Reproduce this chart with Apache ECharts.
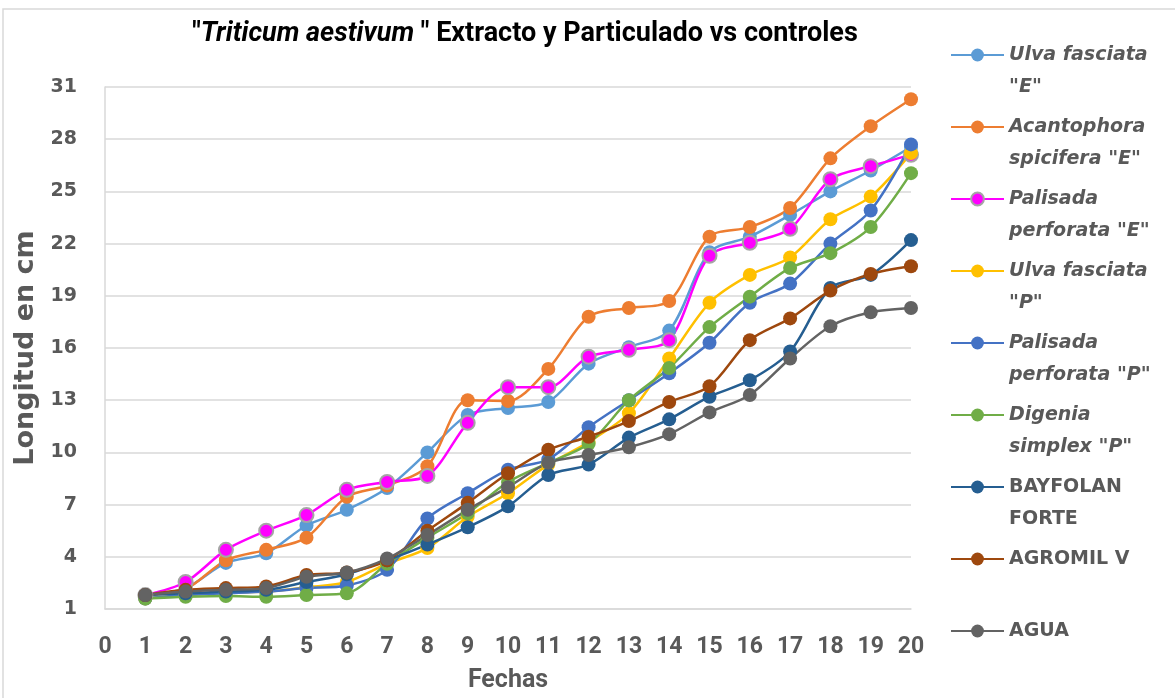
<!DOCTYPE html>
<html>
<head>
<meta charset="utf-8">
<title>Triticum aestivum - Extracto y Particulado vs controles</title>
<script src="https://cdn.jsdelivr.net/npm/echarts@6/dist/echarts.min.js"></script>
<style>
  html, body { margin: 0; padding: 0; background: #fff; }
  #chart { width: 1175px; height: 698px; }
</style>
</head>
<body>
<div id="chart"></div>
<script>
// fechas (eje x) y longitudes en cm por tratamiento
var fechas = [1, 2, 3, 4, 5, 6, 7, 8, 9, 10, 11, 12, 13, 14, 15, 16, 17, 18, 19, 20];

var ulvaE      = [1.8, 2.2, 3.65, 4.2, 5.8, 6.7, 7.95, 10.0, 12.15, 12.55, 12.9, 15.1, 16.05, 17.0, 21.5, 22.4, 23.65, 25.0, 26.2, 27.55];
var acantoE    = [1.8, 2.15, 3.8, 4.4, 5.1, 7.45, 8.1, 9.2, 13.0, 12.95, 14.8, 17.8, 18.3, 18.7, 22.4, 22.95, 24.05, 26.9, 28.75, 30.3];
var palisadaE  = [1.8, 2.55, 4.4, 5.5, 6.4, 7.85, 8.3, 8.65, 11.7, 13.75, 13.75, 15.5, 15.9, 16.45, 21.3, 22.05, 22.85, 25.7, 26.45, 27.1];
var ulvaP      = [1.6, 1.8, 1.95, 2.0, 2.25, 2.55, 3.6, 4.5, 6.3, 7.65, 9.3, 10.6, 12.25, 15.4, 18.6, 20.2, 21.2, 23.4, 24.7, 27.2];
var palisadaP  = [1.6, 1.8, 1.9, 2.0, 2.2, 2.35, 3.25, 6.2, 7.65, 9.0, 9.6, 11.45, 13.0, 14.55, 16.3, 18.6, 19.7, 22.0, 23.9, 27.7];
var digeniaP   = [1.6, 1.7, 1.75, 1.7, 1.8, 1.9, 3.6, 5.1, 6.5, 8.3, 9.4, 10.5, 13.0, 14.85, 17.2, 18.95, 20.6, 21.45, 22.95, 26.05];
var bayfolan   = [1.8, 1.9, 2.0, 2.1, 2.55, 3.0, 3.8, 4.7, 5.7, 6.9, 8.7, 9.3, 10.85, 11.9, 13.2, 14.15, 15.8, 19.45, 20.2, 22.2];
var agromil    = [1.8, 2.1, 2.2, 2.3, 2.95, 3.1, 3.8, 5.5, 7.1, 8.8, 10.15, 10.9, 11.8, 12.9, 13.8, 16.45, 17.7, 19.3, 20.25, 20.7];
var agua       = [1.8, 2.0, 2.1, 2.2, 2.85, 3.1, 3.9, 5.25, 6.7, 8.0, 9.4, 9.85, 10.3, 11.05, 12.3, 13.3, 15.4, 17.25, 18.05, 18.3];

var nombres = [
  'Ulva fasciata "E"', 'Acantophora spicifera "E"', 'Palisada perforata "E"',
  'Ulva fasciata "P"', 'Palisada perforata "P"', 'Digenia simplex "P"',
  'BAYFOLAN FORTE', 'AGROMIL V', 'AGUA'
];
// como se parte cada nombre en la leyenda
var etiquetas = [
  ['Ulva fasciata', '"E"'], ['Acantophora', 'spicifera "E"'], ['Palisada', 'perforata "E"'],
  ['Ulva fasciata', '"P"'], ['Palisada', 'perforata "P"'], ['Digenia', 'simplex "P"'],
  ['BAYFOLAN', 'FORTE'], ['AGROMIL V'], ['AGUA']
];
var yTicks = { min: 1, max: 31, step: 3 };
var xTicks = { min: 0, max: 20, step: 1 };

var gris = '#595959';
var narrow = "Roboto, 'DejaVu Sans', sans-serif";
var ancha = "'DejaVu Sans', Verdana, sans-serif";

function serie(nombre, valores, color, borde) {
  return {
    name: nombre,
    type: 'line',
    smooth: 0.3,
    symbol: 'circle',
    symbolSize: 14,
    data: fechas.map(function (f, i) { return [f, valores[i]]; }),
    lineStyle: { color: color, width: 2.5 },
    itemStyle: borde
      ? { color: color, borderColor: borde, borderWidth: 2 }
      : { color: color, borderWidth: 0 },
    emphasis: { disabled: true }
  };
}

// una leyenda por serie; el simbolo queda a la altura de la primera linea
var LH = 32;
var leyendas = nombres.map(function (n, i) {
  var lineas = etiquetas[i];
  var centro = 55 + 72 * i;
  var doble = lineas.length > 1;
  return {
    data: [n],
    orient: 'vertical',
    left: 950,
    top: centro - (doble ? 1.5 * LH : 0.5 * LH),
    padding: 0,
    itemWidth: 53,
    itemHeight: 16,
    selectedMode: false,
    formatter: function () { return doble ? ' \n' + lineas.join('\n') : lineas[0]; },
    textStyle: {
      fontFamily: ancha,
      fontWeight: 'bold',
      fontStyle: i < 6 ? 'italic' : 'normal',
      fontSize: 19,
      lineHeight: LH,
      color: gris
    }
  };
});

var chart = echarts.init(document.getElementById('chart'));
chart.setOption({
  animation: false,
  backgroundColor: '#fff',
  title: {
    text: '"{i|Triticum aestivum} " Extracto y Particulado vs controles',
    left: 520,
    textAlign: 'center',
    top: 16,
    textStyle: {
      fontFamily: narrow,
      fontWeight: 'bold',
      fontSize: 27,
      color: '#000',
      rich: {
        i: { fontFamily: narrow, fontWeight: 'bold', fontStyle: 'italic', fontSize: 27, color: '#000' }
      }
    }
  },
  legend: leyendas,
  graphic: [{
    type: 'rect',
    shape: { x: 3, y: 9, width: 1185, height: 700 },
    style: { fill: 'none', stroke: '#D9D9D9', lineWidth: 1.5 },
    silent: true
  }],
  grid: { left: 105, right: 264, top: 87, bottom: 89 },
  xAxis: {
    type: 'value',
    min: xTicks.min,
    max: xTicks.max,
    interval: xTicks.step,
    name: 'Fechas',
    nameLocation: 'middle',
    nameGap: 59,
    nameTextStyle: { fontFamily: narrow, fontWeight: 'bold', fontSize: 25, color: gris },
    axisLine: { lineStyle: { color: '#D9D9D9', width: 1.5 } },
    axisTick: { show: false },
    splitLine: { show: false },
    axisLabel: { margin: 27, fontFamily: narrow, fontWeight: 'bold', fontSize: 23, color: gris }
  },
  yAxis: {
    type: 'value',
    min: yTicks.min,
    max: yTicks.max,
    interval: yTicks.step,
    name: 'Longitud en cm',
    nameLocation: 'middle',
    nameGap: 61,
    nameRotate: 90,
    nameTextStyle: { fontFamily: ancha, fontWeight: 'bold', fontSize: 27, color: gris },
    axisLine: { show: true, lineStyle: { color: '#D9D9D9', width: 1.5 } },
    axisTick: { show: false },
    splitLine: { lineStyle: { color: '#D9D9D9', width: 1.5 } },
    axisLabel: { margin: 28, fontFamily: ancha, fontWeight: 'bold', fontSize: 19, color: gris }
  },
  series: [
    serie(nombres[0], ulvaE, '#5B9BD5'),
    serie(nombres[1], acantoE, '#ED7D31'),
    serie(nombres[2], palisadaE, '#FF00FF', '#A5A5A5'),
    serie(nombres[3], ulvaP, '#FFC000'),
    serie(nombres[4], palisadaP, '#4472C4'),
    serie(nombres[5], digeniaP, '#70AD47'),
    serie(nombres[6], bayfolan, '#255E91'),
    serie(nombres[7], agromil, '#9E480E'),
    serie(nombres[8], agua, '#636363')
  ]
});
</script>
</body>
</html>
